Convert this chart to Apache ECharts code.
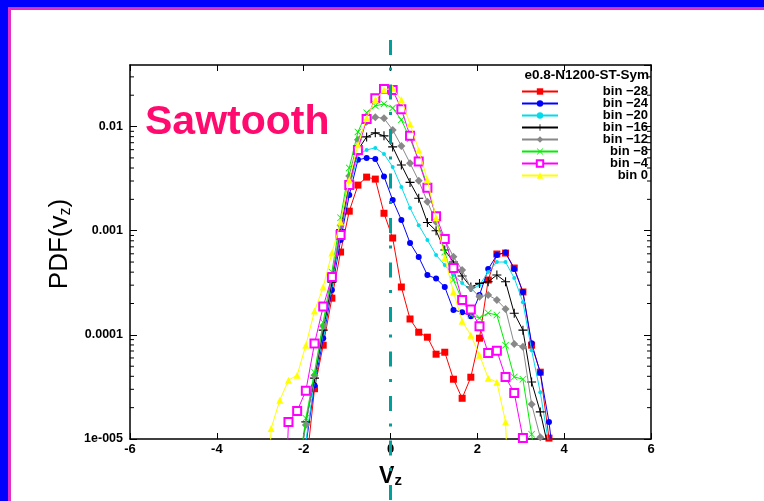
<!DOCTYPE html>
<html>
<head>
<meta charset="utf-8">
<script src="https://cdn.jsdelivr.net/npm/echarts@6/dist/echarts.min.js"></script>
<style>
  html, body { margin: 0; padding: 0; background: #fff; }
  #chart { position: absolute; left: 0; top: 0; width: 764px; height: 501px; }
  .edge { position: absolute; pointer-events: none; }
</style>
</head>
<body>
<div id="chart"></div>
<!-- slide frame along the top and left edges -->
<div class="edge" style="left:0;top:0;width:764px;height:7px;background:#0000ff"></div>
<div class="edge" style="left:0;top:0;width:8px;height:501px;background:#0000ff"></div>
<div class="edge" style="left:8px;top:7px;width:756px;height:3px;background:#e02fc8"></div>
<div class="edge" style="left:8px;top:7px;width:3px;height:494px;background:#e02fc8"></div>
<script>
// velocity bin centres (v_z)
const vz = [-2.95, -2.75, -2.55, -2.35, -2.15, -1.95, -1.75, -1.55, -1.35, -1.15,
            -0.95, -0.75, -0.55, -0.35, -0.15, 0.05, 0.25, 0.45, 0.65, 0.85,
            1.05, 1.25, 1.45, 1.65, 1.85, 2.05, 2.25, 2.45, 2.65, 2.85,
            3.05, 3.25, 3.45, 3.65, 3.85];

// PDF(v_z) for each spatial bin, aligned with vz (null = no sample)
const binM28 = [null, null, null, null, null, 5e-6, 3.04e-5, 7.96e-5, 2.25e-4, 6.24e-4,
                1.54e-3, 2.74e-3, 3.27e-3, 3.13e-3, 1.47e-3, 8.51e-4, 2.88e-4, 1.42e-4, 1.06e-4, 9.5e-5,
                6.52e-5, 6.81e-5, 3.75e-5, 2.46e-5, 3.92e-5, 9.29e-5, 3.36e-4, 5.97e-4, 6.1e-4, 4.38e-4,
                2.58e-4, 7.96e-5, 4.38e-5, 1.02e-5, null];
const binM24 = [null, null, null, null, null, 8.7e-6, 3.28e-5, 9.29e-5, 2.69e-4, 8.15e-4,
                2.2e-3, 4.79e-3, 5.0e-3, 4.89e-3, 3.32e-3, 1.97e-3, 1.27e-3, 7.62e-4, 5.58e-4, 3.75e-4,
                3.47e-4, 2.88e-4, 1.73e-4, 1.65e-4, 1.51e-4, 2.41e-4, 4.28e-4, 5.84e-4, 6.17e-4, 4.28e-4,
                2.58e-4, 8.32e-5, 4.33e-5, 1.46e-5, 3e-6];
const binM20 = [null, null, null, null, null, 9.5e-6, 3.67e-5, 1.04e-4, 3.01e-4, 9.1e-4,
                2.58e-3, 5.35e-3, 5.97e-3, 6.24e-3, 5.46e-3, 4.1e-3, 2.63e-3, 1.65e-3, 1.13e-3, 8.15e-4,
                5.84e-4, 4.68e-4, 3.75e-4, 3.14e-4, 2.69e-4, 3.01e-4, 4.01e-4, 5.0e-4, 5.0e-4, 3.51e-4,
                2.06e-4, 7.13e-5, 2.81e-5, 8.7e-6, null];
const binM16 = [null, null, null, null, 4e-6, 1.46e-5, 3.84e-5, 1.11e-4, 3.21e-4, 1.02e-3,
                2.88e-3, 5.97e-3, 7.96e-3, 8.7e-3, 8.14e-3, 6.38e-3, 4.28e-3, 2.91e-3, 2.05e-3, 1.2e-3,
                1.0e-3, 6.52e-4, 5.0e-4, 3.67e-4, 2.88e-4, 3.12e-4, 3.24e-4, 3.75e-4, 3.24e-4, 1.61e-4,
                1.11e-4, 3.53e-5, 1.82e-5, 7.7e-6, null];
const binM12 = [null, null, null, null, 4e-6, 1.36e-5, 4.1e-5, 1.21e-4, 3.51e-4, 1.13e-3,
                3.36e-3, 7.45e-3, 1.11e-2, 1.23e-2, 1.2e-2, 9.29e-3, 6.52e-3, 4.45e-3, 3.01e-3, 1.9e-3,
                1.21e-3, 8.15e-4, 5.62e-4, 4.19e-4, 2.81e-4, 2.32e-4, 2.41e-4, 2.16e-4, 1.77e-4, 8.15e-5,
                7.67e-5, 2.16e-5, 1.04e-5, 3e-6, null];
const binM8  = [null, null, null, null, 4e-6, 1.58e-5, 4.38e-5, 1.32e-4, 4.01e-4, 1.33e-3,
                4.01e-3, 8.89e-3, 1.36e-2, 1.58e-2, 1.65e-2, 1.51e-2, 1.16e-2, 7.62e-3, 4.79e-3, 2.69e-3,
                1.33e-3, 6.24e-4, 3.36e-4, 2.16e-4, 1.55e-4, 1.45e-4, 1.62e-4, 1.55e-4, 7.96e-5, 3.94e-5,
                3.75e-5, 1.11e-5, 3e-6, null, null];
const binM4  = [null, null, 1e-7, 1.46e-5, 1.86e-5, 2.9e-5, 8.26e-5, 1.87e-4, 3.59e-4, 9.1e-4,
                2.75e-3, 5.97e-3, 1.18e-2, 1.87e-2, 2.29e-2, 2.25e-2, 1.47e-2, 8.14e-3, 4.61e-3, 2.58e-3,
                1.38e-3, 8.32e-4, 4.38e-4, 2.16e-4, 1.75e-4, 1.21e-4, 6.71e-5, 7.02e-5, 3.94e-5, 2.77e-5,
                1.02e-5, null, null, null, null];
const bin0   = [1e-7, 1.26e-5, 2.36e-5, 3.67e-5, 4.1e-5, 7.96e-5, 1.69e-4, 2.88e-4, 6.1e-4, 1.21e-3,
                3.07e-3, 6.67e-3, 1.21e-2, 1.81e-2, 2.25e-2, 2.33e-2, 1.81e-2, 1.06e-2, 5.97e-3, 3.07e-3,
                1.33e-3, 5.46e-4, 2.58e-4, 1.35e-4, 9.93e-5, 6.38e-5, 3.84e-5, 3.51e-5, 1.46e-5, 1e-7,
                null, null, null, null, null];

const seriesNames = ['bin \u221228', 'bin \u221224', 'bin \u221220', 'bin \u221216',
                     'bin \u221212', 'bin \u22128', 'bin \u22124', 'bin 0'];
const seriesValues = [binM28, binM24, binM20, binM16, binM12, binM8, binM4, bin0];

// axis ticks
const xTicks = [-6, -4, -2, 0, 2, 4, 6];
const yTickExps = [-5, -4, -3, -2];
const yTickTexts = ['1e-005', '0.0001', '0.001', '0.01'];
const yMinorTicks = [2e-5, 3e-5, 4e-5, 5e-5, 6e-5, 7e-5, 8e-5, 9e-5,
                     2e-4, 3e-4, 4e-4, 5e-4, 6e-4, 7e-4, 8e-4, 9e-4,
                     2e-3, 3e-3, 4e-3, 5e-3, 6e-3, 7e-3, 8e-3, 9e-3,
                     2e-2, 3e-2];

const FONT = '"Liberation Sans", Arial, Helvetica, sans-serif';
const plusPath = 'path://M4.4,0H5.6V4.4H10V5.6H5.6V10H4.4V5.6H0V4.4H4.4Z';
const crossPath = 'path://M0.8,0L5,4.2L9.2,0L10,0.8L5.8,5L10,9.2L9.2,10L5,5.8L0.8,10L0,9.2L4.2,5L0,0.8Z';

const styles = [
  { color: '#ff0000', symbol: 'rect', size: 7 },
  { color: '#0000ff', symbol: 'circle', size: 6 },
  { color: '#00dcec', symbol: 'circle', size: 4 },
  { color: '#000000', symbol: plusPath, size: 9 },
  { color: '#888888', symbol: 'diamond', size: 8 },
  { color: '#00ee00', symbol: crossPath, size: 7 },
  { color: '#ff00ff', symbol: 'emptyRect', size: 8 },
  { color: '#ffff00', symbol: 'triangle', size: 7 }
];

const chart = echarts.init(document.getElementById('chart'), null, { renderer: 'canvas' });

const dataSeries = seriesNames.map((name, k) => ({
  name: name,
  type: 'line',
  xAxisIndex: 0,
  yAxisIndex: 0,
  data: vz.map((x, i) => [x, seriesValues[k][i]]).filter(p => p[1] !== null),
  symbol: styles[k].symbol,
  symbolSize: styles[k].size,
  showAllSymbol: true,
  clip: true,
  lineStyle: { color: styles[k].color, width: 1 },
  itemStyle: { color: styles[k].color, borderWidth: styles[k].symbol === 'emptyRect' ? 1.2 : 0 },
  emphasis: { disabled: true },
  z: 2 + k * 0.01
}));

const yLabel = v => {
  const e = Math.round(Math.log10(v));
  if (Math.abs(Math.log10(v) - e) > 1e-6) return '';
  const i = yTickExps.indexOf(e);
  return i >= 0 ? yTickTexts[i] : '';
};

const option = {
  animation: false,
  backgroundColor: '#ffffff',
  textStyle: { fontFamily: FONT },
  title: [{
    text: 'e0.8-N1200-ST-Sym',
    right: 115, top: 68, padding: 0,
    textStyle: { fontSize: 13.5, fontWeight: 'bold', color: '#000', fontFamily: FONT }
  }],
  legend: {
    orient: 'vertical',
    left: 516, top: 80,
    itemWidth: 36, itemHeight: 8, itemGap: -1,
    selectedMode: false,
    data: seriesNames,
    formatter: n => '{t|' + n + '}',
    textStyle: {
      lineHeight: 12,
      rich: { t: { width: 85, align: 'right', fontSize: 13, fontWeight: 'bold',
                   color: '#000', lineHeight: 12, fontFamily: FONT } }
    }
  },
  grid: [
    { left: 130, right: 113, top: 65, bottom: 62 },
    { left: 130, right: 113, top: 40, bottom: 0 }
  ],
  xAxis: [
    {
      gridIndex: 0, type: 'value', position: 'bottom',
      min: xTicks[0], max: xTicks[xTicks.length - 1], interval: 2,
      axisLine: { show: true, onZero: false, lineStyle: { color: '#000', width: 1.5 } },
      axisTick: { show: true, inside: true, length: 6, lineStyle: { color: '#000', width: 1 } },
      axisLabel: { color: '#000', fontSize: 13, fontWeight: 'bold', margin: 4, fontFamily: FONT },
      splitLine: { show: false },
      name: '{v|V}{s|z}',
      nameLocation: 'middle', nameGap: 13,
      nameTextStyle: {
        rich: {
          v: { fontSize: 23, lineHeight: 23, fontWeight: 'bold', color: '#000', verticalAlign: 'top', fontFamily: FONT },
          s: { fontSize: 15, lineHeight: 15, fontWeight: 'bold', color: '#000', verticalAlign: 'bottom',
               padding: [12, 0, 0, 0], fontFamily: FONT }
        }
      }
    },
    {
      gridIndex: 0, type: 'value', position: 'top',
      min: xTicks[0], max: xTicks[xTicks.length - 1], interval: 2,
      axisLine: { show: true, onZero: false, lineStyle: { color: '#000', width: 1.5 } },
      axisTick: { show: true, inside: true, length: 6, lineStyle: { color: '#000', width: 1 } },
      axisLabel: { show: false },
      splitLine: { show: false }
    },
    { gridIndex: 1, type: 'value', min: -6, max: 6, show: false }
  ],
  yAxis: [
    {
      gridIndex: 0, type: 'log', logBase: 10, position: 'left',
      min: 1e-5, max: 0.039,
      axisLine: { show: true, onZero: false, lineStyle: { color: '#000', width: 1.5 } },
      axisTick: { show: true, inside: true, length: 7, lineStyle: { color: '#000', width: 1 } },
      axisLabel: { color: '#000', fontSize: 12.5, fontWeight: 'bold', margin: 7, fontFamily: FONT,
                   formatter: yLabel, showMaxLabel: false },
      splitLine: { show: false },
      name: '{n|PDF(v}{s|z}{n|)}',
      nameLocation: 'middle', nameGap: 56,
      nameTextStyle: {
        padding: [0, 0, 0, 16],
        rich: {
          n: { fontSize: 26, lineHeight: 26, color: '#000', verticalAlign: 'top', fontFamily: FONT },
          s: { fontSize: 16, lineHeight: 16, color: '#000', verticalAlign: 'bottom',
               padding: [13, 0, 0, 0], fontFamily: FONT }
        }
      }
    },
    {
      gridIndex: 0, type: 'log', logBase: 10, position: 'right',
      min: 1e-5, max: 0.039,
      axisLine: { show: true, onZero: false, lineStyle: { color: '#000', width: 1.5 } },
      axisTick: { show: true, inside: true, length: 7, lineStyle: { color: '#000', width: 1 } },
      axisLabel: { show: false },
      splitLine: { show: false }
    },
    { gridIndex: 1, type: 'value', min: 0, max: 1, show: false }
  ],
  graphic: [{
    type: 'text', left: 145, top: 102, z: 20, silent: true,
    style: { text: 'Sawtooth', fill: '#ff0a6e', font: 'bold 41px ' + FONT }
  }],
  series: dataSeries.concat([
    {
      // minor log ticks on the left and right frame
      type: 'custom', xAxisIndex: 0, yAxisIndex: 0, silent: true, clip: false, z: 5,
      data: yMinorTicks.map(v => [xTicks[0], v]),
      renderItem: (params, api) => {
        const l = api.coord([xTicks[0], api.value(1)]);
        const r = api.coord([xTicks[xTicks.length - 1], api.value(1)]);
        return {
          type: 'group',
          children: [
            { type: 'line', shape: { x1: l[0], y1: l[1], x2: l[0] + 4, y2: l[1] }, style: { stroke: '#000', lineWidth: 1 } },
            { type: 'line', shape: { x1: r[0], y1: r[1], x2: r[0] - 4, y2: r[1] }, style: { stroke: '#000', lineWidth: 1 } }
          ]
        };
      }
    },
    {
      // v_z = 0 reference line
      type: 'line', xAxisIndex: 2, yAxisIndex: 2, silent: true, clip: false, z: 10,
      data: [[0, 1], [0, 0]],
      symbol: 'none',
      lineStyle: { color: '#00a09a', width: 3, type: [15, 12.5, 3, 14], cap: 'butt' }
    }
  ])
};

chart.setOption(option);
</script>
</body>
</html>
